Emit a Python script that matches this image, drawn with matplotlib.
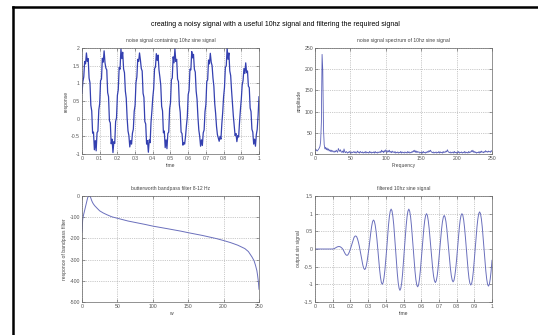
import numpy as np
import matplotlib
matplotlib.use('Agg')
import matplotlib.pyplot as plt
from matplotlib.ticker import FormatStrFormatter
from matplotlib.lines import Line2D

noisy = [
    0.72, 1.05, 1.18, 1.62, 1.55, 1.86, 1.62, 1.70, 1.15, 1.02, 0.38, 0.22, -0.41, -0.38, -0.88, -0.62, -0.91, -0.40, -0.35, 0.25,
    0.42, 1.08, 1.12, 1.71, 1.60, 1.92, 1.58, 1.43, 1.38, 0.74, 0.62, -0.06, -0.12, -0.71, -0.58, -0.96, -0.65, -0.70, -0.08, 0.02,
    0.66, 0.82, 1.45, 1.40, 1.98, 1.70, 1.88, 1.41, 1.30, 0.78, 0.58, 0.02, -0.35, -0.48, -0.80, -0.62, -0.72, -0.41, -0.30, 0.21,
    0.38, 1.02, 1.18, 1.68, 1.62, 1.86, 1.66, 1.42, 1.35, 0.72, 0.60, -0.08, -0.15, -0.72, -0.62, -0.95, -0.60, -0.68, -0.10, 0.22,
    0.60, 0.85, 1.42, 1.46, 1.84, 1.65, 1.80, 1.38, 1.18, 0.95, 0.35, 0.22, -0.40, -0.35, -0.82, -0.60, -0.85, -0.42, -0.38, 0.28,
    0.45, 1.10, 1.15, 1.75, 1.58, 1.98, 1.62, 1.68, 1.12, 1.05, 0.40, 0.18, -0.38, -0.42, -0.75, -0.68, -0.72, -0.50, -0.20, 0.05,
    0.68, 0.80, 1.40, 1.38, 1.90, 1.72, 1.82, 1.40, 1.32, 0.78, 0.55, 0.05, -0.32, -0.50, -0.78, -0.60, -0.76, -0.40, -0.32, 0.20,
    0.40, 1.05, 1.10, 1.66, 1.55, 1.85, 1.60, 1.50, 1.15, 0.92, 0.42, 0.15, -0.22, -0.45, -0.55, -0.64, -0.50, -0.58, -0.15, 0.18,
    0.62, 0.88, 1.45, 1.50, 2.00, 1.68, 1.86, 1.35, 1.22, 0.80, 0.45, 0.08, -0.20, -0.48, -0.42, -0.65, -0.48, -0.52, -0.10, 0.25,
    0.55, 0.95, 1.08, 1.42, 1.28, 1.58, 1.30, 1.35, 0.92, 0.88, 0.30, 0.20, -0.30, -0.38, -0.72, -0.58, -0.78, -0.45, -0.30, 0.10,
    0.62,
]

# spectrum amplitude, 1 Hz per bin from 0 to 250
spectrum = [
    12, 8, 10, 7, 9, 11, 14, 18, 30, 75, 235, 197, 60, 22, 12, 16, 10, 14, 9, 12, 7, 10, 6, 9, 5,
    8, 6, 4, 7, 5, 9, 6, 4, 13, 9, 6, 10, 5, 4, 7, 3, 12, 5, 3, 6, 4, 2, 5, 3, 6,
    4, 2, 5, 3, 4, 6, 3, 5, 2, 4, 7, 3, 5, 2, 6, 4, 3, 5, 2, 4, 3, 6, 2, 5, 3,
    4, 2, 6, 3, 5, 2, 4, 3, 5, 2, 6, 3, 4, 2, 5, 3, 4, 6, 3, 9, 5, 7, 3, 8, 5,
    10, 6, 4, 8, 5, 9, 4, 6, 3, 7, 4, 5, 3, 6, 2, 4, 3, 5, 2, 4, 3, 6, 2, 5, 3,
    4, 2, 5, 3, 4, 2, 6, 3, 5, 2, 4, 3, 6, 4, 8, 5, 9, 4, 7, 3, 6, 4, 5, 2, 4,
    3, 5, 2, 6, 3, 4, 2, 5, 3, 6, 4, 8, 5, 9, 6, 4, 3, 5, 2, 4, 3, 5, 2, 4, 3,
    6, 2, 5, 3, 4, 2, 6, 3, 5, 4, 7, 5, 10, 6, 4, 3, 5, 2, 4, 3, 5, 2, 6, 3, 4,
    2, 5, 3, 6, 2, 4, 3, 5, 2, 4, 3, 6, 2, 5, 3, 4, 2, 6, 3, 5, 4, 8, 5, 9, 4,
    6, 3, 5, 2, 4, 3, 5, 2, 6, 3, 7, 4, 5, 3, 6, 4, 8, 5, 6, 4, 7, 5, 6, 4, 8,
    6,
]

# butterworth bandpass response (w, value)
filt_w = [0, 1, 2, 3, 4, 5, 6, 7, 8, 9, 10, 11, 12, 13, 14, 15, 16, 18, 20, 22, 25, 30,
          35, 42, 50, 65, 80, 89, 100, 122, 140, 150, 170, 190, 200, 210, 220, 230,
          235, 240, 243, 245, 247, 248, 249, 250]
filt_resp = [-170, -110, -92, -78, -64, -50, -36, -22, -8, -2, 0, -1, -5, -15, -24, -31, -37, -46,
             -53, -60, -70, -80, -88, -98, -105, -118, -128, -134, -142, -155, -166, -173,
             -186, -201, -210, -220, -232, -248, -262, -287, -305, -326, -352, -374, -400, -440]

# filtered output, sampled every 0.005 s
filtered = [
    0, 0, 0, 0, 0, 0, 0, 0, 0, 0, 0, 0, 0, 0, 0, 0, 0, 0, 0, 0, 0,
    0.005, 0.015, 0.03, 0.045, 0.058, 0.067, 0.07, 0.068, 0.055, 0.035,
    0.01, -0.03, -0.08, -0.13, -0.165, -0.18, -0.17, -0.13, -0.07, 0.0,
    0.08, 0.17, 0.25, 0.32, 0.36, 0.37, 0.35, 0.29, 0.2, 0.09,
    -0.04, -0.18, -0.32, -0.45, -0.54, -0.58, -0.56, -0.47, -0.33, -0.16,
    0.03, 0.25, 0.46, 0.64, 0.77, 0.82, 0.79, 0.68, 0.5, 0.27,
    0.0, -0.3, -0.58, -0.8, -0.95, -1.0, -0.95, -0.81, -0.59, -0.31,
    0.0, 0.35, 0.66, 0.91, 1.07, 1.13, 1.08, 0.92, 0.68, 0.36,
    0.0, -0.36, -0.69, -0.95, -1.11, -1.17, -1.11, -0.95, -0.69, -0.36,
    0.0, 0.35, 0.66, 0.91, 1.07, 1.13, 1.07, 0.91, 0.66, 0.34,
    0.0, -0.33, -0.63, -0.87, -1.02, -1.07, -1.02, -0.86, -0.62, -0.32,
    0.0, 0.31, 0.59, 0.81, 0.95, 1.0, 0.95, 0.8, 0.58, 0.3,
    0.0, -0.29, -0.56, -0.77, -0.9, -0.95, -0.9, -0.77, -0.56, -0.29,
    0.0, 0.29, 0.56, 0.77, 0.9, 0.95, 0.9, 0.77, 0.56, 0.29,
    0.0, -0.29, -0.55, -0.75, -0.88, -0.93, -0.89, -0.76, -0.56, -0.3,
    0.0, 0.31, 0.59, 0.81, 0.95, 1.0, 0.96, 0.82, 0.6, 0.32,
    0.0, -0.32, -0.6, -0.83, -0.97, -1.02, -0.98, -0.84, -0.61, -0.32,
    0.0, 0.32, 0.62, 0.85, 1.0, 1.05, 1.0, 0.85, 0.62, 0.32,
    0.0, -0.32, -0.62, -0.85, -1.0, -1.05, -1.0, -0.85, -0.62, -0.32,
]

plt.rcParams['font.family'] = ['Liberation Sans', 'DejaVu Sans']

fig = plt.figure(figsize=(5.38, 3.35), dpi=100)
fig.patch.set_facecolor('white')

# black frame on the left and top of the picture
fig.add_artist(Line2D([0.024, 0.024], [0.0, 0.98], transform=fig.transFigure, color='black', lw=1.8))
fig.add_artist(Line2D([0.024, 1.0], [0.98, 0.98], transform=fig.transFigure, color='black', lw=1.8))

fig.text(0.512, 0.926, 'creating a noisy signal with a useful 10hz signal and filtering the required signal',
         ha='center', va='center', fontsize=5.0)

w, h = 0.329, 0.3164
ax1 = fig.add_axes([0.1524, 0.5403, w, h])
ax2 = fig.add_axes([0.5855, 0.5403, w, h])
ax3 = fig.add_axes([0.1524, 0.0985, w, h])
ax4 = fig.add_axes([0.5855, 0.0985, w, h])

t_noisy = np.linspace(0, 1, len(noisy))
freqs = np.arange(len(spectrum))
t_filt = np.linspace(0, 1, len(filtered))

ax1.plot(t_noisy, noisy, color='#3440b0', lw=0.9)
ax1.set_xlim(0, 1)
ax1.set_ylim(-1, 2)
ax1.set_xticks(np.arange(0, 1.01, 0.1))
ax1.set_yticks(np.arange(-1, 2.01, 0.5))
ax1.set_title('noise signal containing 10hz sine signal')
ax1.set_xlabel('time')
ax1.set_ylabel('response')

ax2.plot(freqs, spectrum, color='#5a60b8', lw=0.6)
ax2.set_xlim(0, 250)
ax2.set_ylim(0, 250)
ax2.set_xticks(np.arange(0, 251, 50))
ax2.set_yticks(np.arange(0, 251, 50))
ax2.set_title('noise signal spectrum of 10hz sine signal')
ax2.set_xlabel('Frequency')
ax2.set_ylabel('amplitude')

ax3.plot(filt_w, filt_resp, color='#6a6fbc', lw=0.7)
ax3.set_xlim(0, 250)
ax3.set_ylim(-500, 0)
ax3.set_xticks(np.arange(0, 251, 50))
ax3.set_yticks(np.arange(-500, 1, 100))
ax3.set_title('butterworth bandpass filter 8-12 Hz')
ax3.set_xlabel('w')
ax3.set_ylabel('responce of bandpass filter')

ax4.plot(t_filt, filtered, color='#6a6fbc', lw=0.7)
ax4.set_xlim(0, 1)
ax4.set_ylim(-1.5, 1.5)
ax4.set_xticks(np.arange(0, 1.01, 0.1))
ax4.set_yticks(np.arange(-1.5, 1.51, 0.5))
ax4.set_title('filtered 10hz sine signal')
ax4.set_xlabel('time')
ax4.set_ylabel('output sin signal')

for ax in [ax1, ax2, ax3, ax4]:
    ax.xaxis.label.set_fontsize(3.6)
    ax.yaxis.label.set_fontsize(3.6)
    ax.xaxis.label.set_color('#444444')
    ax.yaxis.label.set_color('#444444')
    ax.xaxis.labelpad = 1.5
    ax.yaxis.labelpad = 2
    ax.tick_params(direction='in', length=2, width=0.4, labelsize=3.7, pad=1.5,
                   colors='#555555', top=True, right=True)
    ax.xaxis.set_major_formatter(FormatStrFormatter('%g'))
    ax.yaxis.set_major_formatter(FormatStrFormatter('%g'))
    ax.grid(True, linestyle=':', color='#999999', lw=0.5)
    for s in ax.spines.values():
        s.set_linewidth(0.5)
        s.set_color('#666666')
    ax.set_title(ax.get_title(), fontsize=3.6, color='#444444', pad=4)

fig.savefig('out.png', dpi=100, facecolor='white')
